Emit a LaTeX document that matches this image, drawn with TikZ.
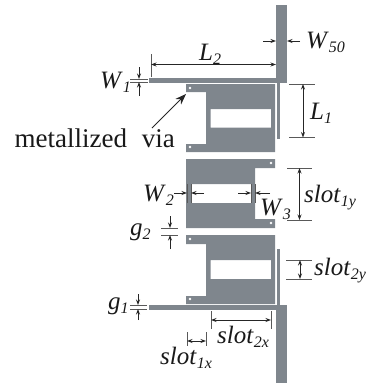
\documentclass[tikz,border=0pt]{standalone}
\usepackage{fontspec}
\setmainfont{Liberation Serif}
\usetikzlibrary{arrows.meta}
\definecolor{metal}{HTML}{7F868D}
\newcommand{\sym}[2]{\fontsize{25}{25}\selectfont\textit{#1}\raisebox{-4pt}{\fontsize{16}{16}\selectfont\textit{#2}}}
\tikzset{
  x=1pt,y=-1pt,
  metalpart/.style={fill=metal,draw=none,even odd rule},
  viadot/.style={circle,fill=white,draw=none,inner sep=0pt,minimum size=2.6pt},
  dimlabel/.style={anchor=base west,inner sep=0pt,text=black!90},
  dimline/.style={line width=0.8pt,draw=black!85},
  extline/.style={line width=0.8pt,draw=black!65},
  dimarrow/.style={dimline,-{Stealth[length=5.5pt,width=4pt]}},
  dimboth/.style={dimline,{Stealth[length=5.5pt,width=4pt]}-{Stealth[length=5.5pt,width=4pt]}},
  bigarrow/.style={line width=0.8pt,draw=black!85,-{Stealth[length=11pt,width=8pt]}}
}
\begin{document}
\begin{tikzpicture}
\useasboundingbox (0,0) rectangle (367,383);
% top feed
\fill[metal] (276,5) rectangle (287,83);
\fill[metal] (149,78) rectangle (276,83);
\fill[metal] (276.5,83) rectangle (279.5,139);
% top resonator
\path[metalpart] (186,84) -- (275,84) -- (275,152) -- (186,152) -- (186,144) -- (206,144) -- (206,92) -- (186,92) -- cycle
  (210.5,109) rectangle (271,127.5);
% middle resonator
\path[metalpart] (186,159) -- (275,159) -- (275,168) -- (255,168) -- (255,219) -- (275,219) -- (275,228) -- (186,228) -- cycle
  (191,184) rectangle (251,203);
% bottom resonator
\path[metalpart] (186,235) -- (275,235) -- (275,304) -- (186,304) -- (186,296) -- (206,296) -- (206,244) -- (186,244) -- cycle
  (210.5,260) rectangle (271,279);
% bottom feed
\fill[metal] (276.5,249) rectangle (279.5,305);
\fill[metal] (149,305) rectangle (276,309.5);
\fill[metal] (276,305) rectangle (287,383);
% vias
\foreach \n/\p in {va/{190,88},vb/{190,147},vc/{271,163},vd/{271,223},ve/{190,239},vf/{190,299}}
  \node[viadot] (\n) at (\p) {};
% W50
\coordinate (w50a) at (263,41); \coordinate (w50b) at (276,41);
\coordinate (w50c) at (300,41); \coordinate (w50d) at (287,41);
\draw[dimarrow] (w50a) -- (w50b);
\draw[dimarrow] (w50c) -- (w50d);
\node[dimlabel] (lw50) at (306,48) {\sym{W}{50}};
% L2
\coordinate (l2a) at (151,64.5); \coordinate (l2b) at (276,64.5);
\coordinate (l2t) at (151,54); \coordinate (l2u) at (151,77);
\draw[extline] (l2t) -- (l2u);
\draw[dimboth] (l2a) -- (l2b);
\node[dimlabel] (ll2) at (199,60) {\sym{L}{2}};
% L1
\coordinate (l1a) at (289,84); \coordinate (l1b) at (315,84);
\coordinate (l1c) at (289,137.5); \coordinate (l1d) at (315,137.5);
\coordinate (l1e) at (303,84); \coordinate (l1f) at (303,137.5);
\draw[extline] (l1a) -- (l1b);
\draw[extline] (l1c) -- (l1d);
\draw[dimboth] (l1e) -- (l1f);
\node[dimlabel] (ll1) at (310,119) {\sym{L}{1}};
% W1
\coordinate (w1a) at (130,79); \coordinate (w1b) at (148,79);
\coordinate (w1c) at (130,82); \coordinate (w1d) at (148,82);
\coordinate (w1e) at (139,67); \coordinate (w1f) at (139,79);
\coordinate (w1g) at (139,96); \coordinate (w1h) at (139,82);
\draw[extline] (w1a) -- (w1b);
\draw[extline] (w1c) -- (w1d);
\draw[dimarrow] (w1e) -- (w1f);
\draw[dimarrow] (w1g) -- (w1h);
\node[dimlabel] (lw1) at (100,88) {\sym{W}{1}};
% metallized via
\node[dimlabel] (lvia) at (14.5,147) {\fontsize{27}{27}\selectfont metallized\hspace{8pt} via};
\coordinate (viatip) at (186,94);
\coordinate (viatail) at (152,128);
\draw[bigarrow] (viatail) -- (viatip);
% W2
\coordinate (w2a) at (174,193); \coordinate (w2b) at (187,193);
\coordinate (w2c) at (204,193); \coordinate (w2d) at (191,193);
\coordinate (w2e) at (187,184); \coordinate (w2f) at (187,203);
\coordinate (w2g) at (191,184); \coordinate (w2h) at (191,203);
\draw[extline] (w2e) -- (w2f);
\draw[extline] (w2g) -- (w2h);
\draw[dimarrow] (w2a) -- (w2b);
\draw[dimarrow] (w2c) -- (w2d);
\node[dimlabel] (lw2) at (143,201) {\sym{W}{2}};
% W3
\coordinate (w3a) at (238,193); \coordinate (w3b) at (251,193);
\coordinate (w3c) at (270,193); \coordinate (w3d) at (255,193);
\coordinate (w3e) at (251,184); \coordinate (w3f) at (251,203);
\coordinate (w3g) at (255,184); \coordinate (w3h) at (255,203);
\draw[extline] (w3e) -- (w3f);
\draw[extline] (w3g) -- (w3h);
\draw[dimarrow] (w3a) -- (w3b);
\draw[dimarrow] (w3c) -- (w3d);
\node[dimlabel] (lw3) at (260,215) {\sym{W}{3}};
% slot1y
\coordinate (sya) at (287,168); \coordinate (syb) at (312,168);
\coordinate (syc) at (287,220); \coordinate (syd) at (312,220);
\coordinate (sye) at (299.5,168); \coordinate (syf) at (299.5,220);
\draw[extline] (sya) -- (syb);
\draw[extline] (syc) -- (syd);
\draw[dimboth] (sye) -- (syf);
\node[dimlabel] (lsy) at (304,202) {\sym{slot}{1y}};
% g2
\coordinate (g2a) at (161,228); \coordinate (g2b) at (178,228);
\coordinate (g2c) at (161,235); \coordinate (g2d) at (178,235);
\coordinate (g2e) at (170,216); \coordinate (g2f) at (170,228);
\coordinate (g2g) at (170,249); \coordinate (g2h) at (170,235);
\draw[extline] (g2a) -- (g2b);
\draw[extline] (g2c) -- (g2d);
\draw[dimarrow] (g2e) -- (g2f);
\draw[dimarrow] (g2g) -- (g2h);
\node[dimlabel] (lg2) at (130,235) {\sym{g}{2}};
% slot2y
\coordinate (tya) at (286,260); \coordinate (tyb) at (312,260);
\coordinate (tyc) at (286,279); \coordinate (tyd) at (312,279);
\coordinate (tye) at (300,260); \coordinate (tyf) at (300,279);
\draw[extline] (tya) -- (tyb);
\draw[extline] (tyc) -- (tyd);
\draw[dimboth] (tye) -- (tyf);
\node[dimlabel] (lty) at (314,275) {\sym{slot}{2y}};
% g1
\coordinate (g1a) at (130,305); \coordinate (g1b) at (147,305);
\coordinate (g1c) at (130,309); \coordinate (g1d) at (147,309);
\coordinate (g1e) at (138,294); \coordinate (g1f) at (138,305);
\coordinate (g1g) at (138,320); \coordinate (g1h) at (138,309);
\draw[extline] (g1a) -- (g1b);
\draw[extline] (g1c) -- (g1d);
\draw[dimarrow] (g1e) -- (g1f);
\draw[dimarrow] (g1g) -- (g1h);
\node[dimlabel] (lg1) at (108,309) {\sym{g}{1}};
% slot2x
\coordinate (txa) at (211,311); \coordinate (txb) at (211,329);
\coordinate (txc) at (271,311); \coordinate (txd) at (271,329);
\coordinate (txe) at (211,320); \coordinate (txf) at (271,320);
\draw[extline] (txa) -- (txb);
\draw[extline] (txc) -- (txd);
\draw[dimboth] (txe) -- (txf);
\node[dimlabel] (ltx) at (217,343) {\sym{slot}{2x}};
% slot1x
\coordinate (sxa) at (187,332); \coordinate (sxb) at (187,346);
\coordinate (sxc) at (206,332); \coordinate (sxd) at (206,346);
\coordinate (sxe) at (187,341); \coordinate (sxf) at (206,341);
\draw[extline] (sxa) -- (sxb);
\draw[extline] (sxc) -- (sxd);
\draw[dimboth] (sxe) -- (sxf);
\node[dimlabel] (lsx) at (160,364) {\sym{slot}{1x}};
\end{tikzpicture}
\end{document}
